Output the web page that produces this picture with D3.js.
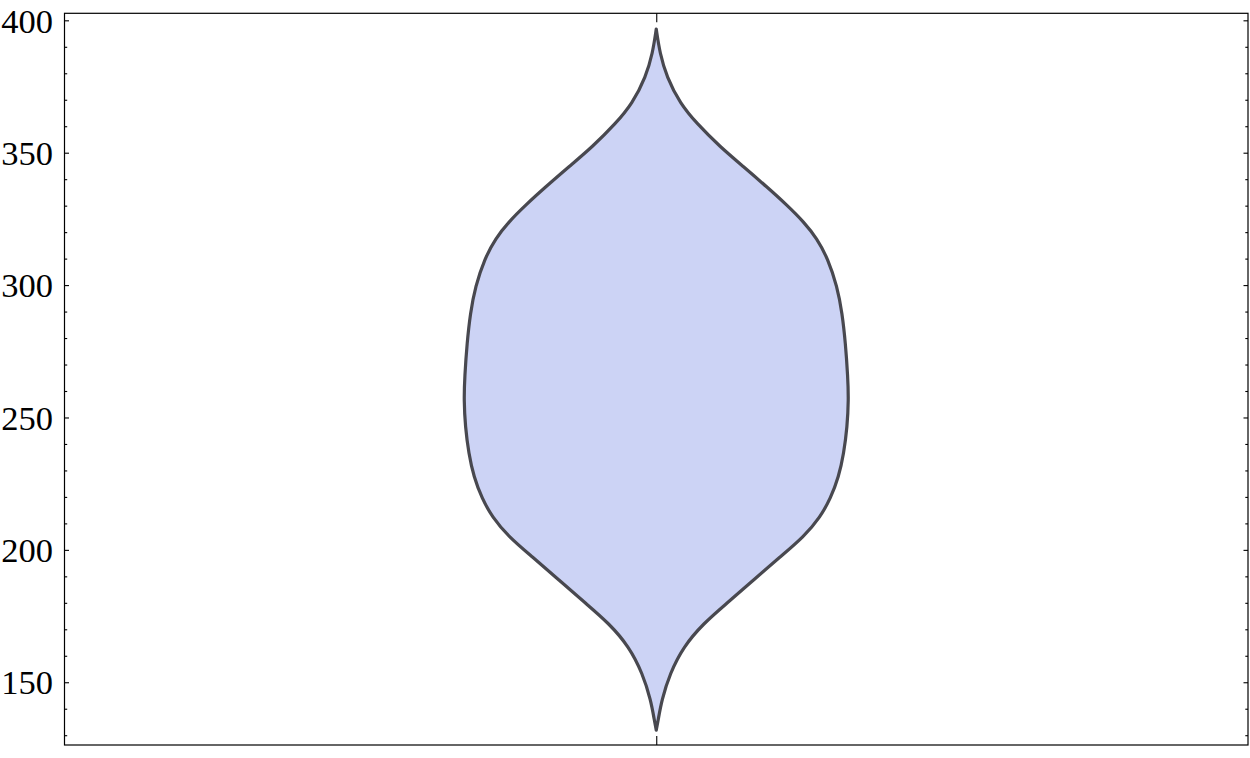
<!DOCTYPE html>
<html>
<head>
<meta charset="utf-8">
<script src="https://cdn.jsdelivr.net/npm/d3@7"></script>
<style>
  html, body { margin: 0; padding: 0; background: #fff; }
  svg { display: block; }
</style>
</head>
<body>
<svg id="chart" width="1250" height="758"></svg>
<script>
// ---- data ----
const categories = ["A"];
// violin profile: value (y) and relative density (half-width, 0..1)
const profileValues = [396.7, 387.5, 378.7, 368.6, 361.1, 352.2, 344.7, 337.1, 330.2, 323.9, 317.6, 310.0,
  299.4, 289.3, 278.0, 265.4, 256.6, 246.5, 236.4, 227.6, 219.4, 212.5, 204.9, 197.4, 188.6, 179.8,
  172.2, 163.4, 153.3, 143.2, 135.7, 131.9];
const profileDensity = [0, 0.019, 0.054, 0.124, 0.210, 0.332, 0.454, 0.575, 0.680, 0.767, 0.836, 0.892,
  0.941, 0.967, 0.984, 0.996, 1.000, 0.993, 0.975, 0.949, 0.906, 0.854, 0.767, 0.645, 0.506, 0.367,
  0.245, 0.141, 0.071, 0.028, 0.010, 0];
const majorTicks = [150, 200, 250, 300, 350, 400];
const minorTicks = d3.range(130, 401, 10).filter(v => v % 50 !== 0);
const yDomain = [126.3, 402.65];

// ---- layout ----
const frame = { left: 64.5, right: 1248, top: 13.3, bottom: 745 };
const svg = d3.select("#chart");

const y = d3.scaleLinear().domain(yDomain).range([frame.bottom, frame.top]);
const x = d3.scalePoint().domain(categories).range([frame.left, frame.right]).padding(0.5);
const w = d3.scaleLinear().domain([0, 1]).range([0, (frame.right - frame.left) * 0.1625]);

// violin
const pts = profileValues.map((v, i) => ({ v, d: profileDensity[i] }));
const cx = x(categories[0]);
const area = d3.area()
  .y(p => y(p.v))
  .x0(p => cx - w(p.d))
  .x1(p => cx + w(p.d))
  .curve(d3.curveBasis);

svg.append("path")
  .datum(pts)
  .attr("d", area)
  .attr("fill", "#ccd3f5")
  .attr("stroke", "#48484f")
  .attr("stroke-width", 3.2)
  .attr("stroke-linejoin", "round")
  .attr("stroke-linecap", "round");

// frame
svg.append("rect")
  .attr("x", frame.left).attr("y", frame.top)
  .attr("width", frame.right - frame.left).attr("height", frame.bottom - frame.top)
  .attr("fill", "none").attr("stroke", "#000").attr("stroke-width", 1.2);

function styleTicks(g) {
  g.select(".domain").remove();
  g.selectAll("line").attr("stroke", "#000").attr("stroke-width", 1.1);
}

// left axis (ticks inward)
const gL = svg.append("g").attr("transform", `translate(${frame.left},0)`)
  .call(d3.axisRight(y).tickValues(majorTicks).tickSize(4.5).tickFormat(d3.format("d")));
styleTicks(gL);
gL.attr("font-family", null).attr("font-size", null);
gL.selectAll("text")
  .attr("x", -11.5)
  .attr("dy", "0.34em")
  .attr("text-anchor", "end")
  .attr("font-family", "'Liberation Serif', 'Times New Roman', serif")
  .attr("font-size", 34.5)
  .attr("fill", "#000");

const gLm = svg.append("g").attr("transform", `translate(${frame.left},0)`)
  .call(d3.axisRight(y).tickValues(minorTicks).tickSize(2.7).tickFormat(""));
styleTicks(gLm);

// right axis (ticks inward)
const gR = svg.append("g").attr("transform", `translate(${frame.right},0)`)
  .call(d3.axisLeft(y).tickValues(majorTicks).tickSize(4.5).tickFormat(""));
styleTicks(gR);
const gRm = svg.append("g").attr("transform", `translate(${frame.right},0)`)
  .call(d3.axisLeft(y).tickValues(minorTicks).tickSize(2.7).tickFormat(""));
styleTicks(gRm);

// top & bottom category ticks (inward, no labels)
const gB = svg.append("g").attr("transform", `translate(0,${frame.bottom})`)
  .call(d3.axisTop(x).tickSize(9).tickFormat(""));
styleTicks(gB);
const gT = svg.append("g").attr("transform", `translate(0,${frame.top})`)
  .call(d3.axisBottom(x).tickSize(9).tickFormat(""));
styleTicks(gT);
</script>
</body>
</html>
